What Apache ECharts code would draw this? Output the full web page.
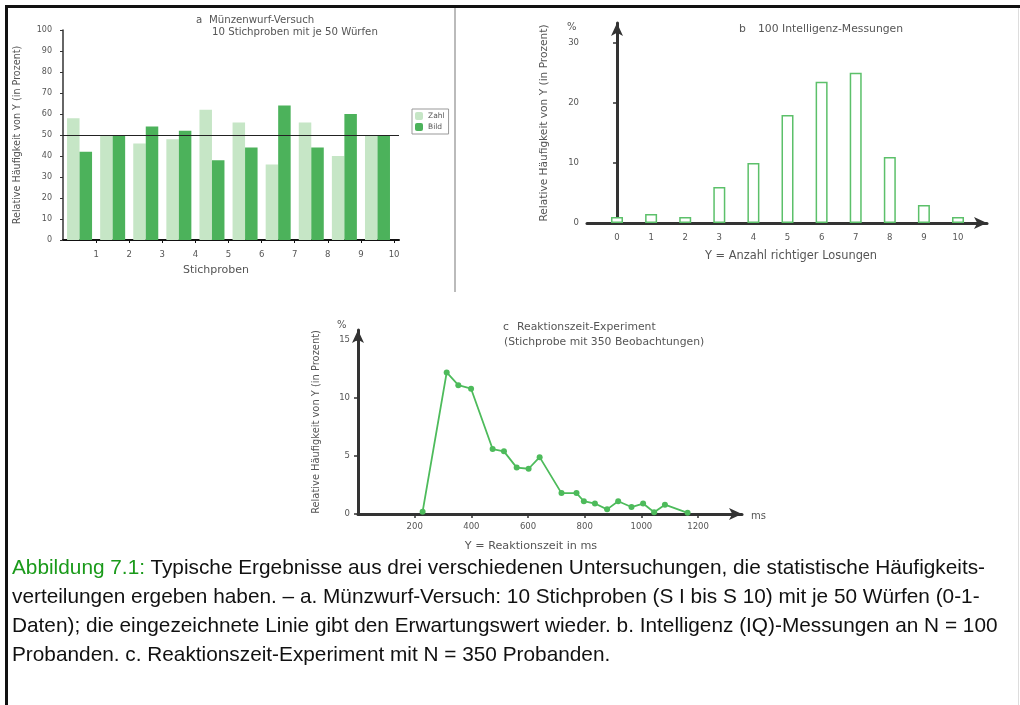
<!DOCTYPE html>
<html>
<head>
<meta charset="utf-8">
<script src="https://cdn.jsdelivr.net/npm/echarts@6/dist/echarts.min.js"></script>
<style>
  html, body { margin: 0; padding: 0; background: #fff; }
  #page { position: relative; width: 1020px; height: 705px; overflow: hidden; }
  #frame { position: absolute; left: 5px; top: 5px; width: 1020px; height: 710px;
    border-top: 3px solid #111; border-left: 3px solid #111; box-sizing: border-box; }
  #rightEdge { position: absolute; left: 1018px; top: 8px; width: 1px; height: 697px; background: #ddd; }
  #chart { position: absolute; left: 0; top: 0; width: 1020px; height: 705px; }
  #caption { position: absolute; left: 12px; top: 552px; width: 1005px; white-space: nowrap;
    font-family: "Liberation Sans", Arial, sans-serif; font-size: 20.8px; line-height: 29px; color: #111; }
  #caption .fig { color: #1a9a1a; }
</style>
</head>
<body>
<div id="page">
  <div id="chart"></div>
  <div id="frame"></div>
  <div id="rightEdge"></div>
  <div id="caption">
    <span class="fig">Abbildung 7.1:</span> Typische Ergebnisse aus drei verschiedenen Untersuchungen, die statistische Häufigkeits-<br>
    verteilungen ergeben haben. – a. Münzwurf-Versuch: 10 Stichproben (S I bis S 10) mit je 50 Würfen (0-1-<br>
    Daten); die eingezeichnete Linie gibt den Erwartungswert wieder. b. Intelligenz (IQ)-Messungen an N = 100<br>
    Probanden. c. Reaktionszeit-Experiment mit N = 350 Probanden.
  </div>
</div>
<script>
// a: Münzwurf, 10 Stichproben mit je 50 Würfen
const samples = [1, 2, 3, 4, 5, 6, 7, 8, 9, 10]
const zahlValues = [58, 50, 46, 48, 62, 56, 36, 56, 40, 50]
const bildValues = [42, 50, 54, 52, 38, 44, 64, 44, 60, 50]
const expectedValue = 50

// b: 100 Intelligenz-Messungen
const iqScores = [0, 1, 2, 3, 4, 5, 6, 7, 8, 9, 10]
const iqPercent = [1, 1.5, 1, 6, 10, 18, 23.5, 25, 11, 3, 1]
const iqYTicks = [0, 10, 20, 30]

// c: Reaktionszeit-Experiment
const rtMs = [228, 313, 354, 399, 475, 515, 560, 602, 641, 718, 771, 797, 836, 879, 918, 965, 1006, 1045, 1083, 1163]
const rtPercent = [0.2, 12.2, 11.1, 10.8, 5.6, 5.4, 4.0, 3.9, 4.9, 1.8, 1.8, 1.1, 0.9, 0.4, 1.1, 0.6, 0.9, 0.15, 0.8, 0.1]
const rtXTicks = [200, 400, 600, 800, 1000, 1200]
const rtYTicks = [0, 5, 10, 15]

const FONT = '"DejaVu Sans", "Liberation Sans", sans-serif'
const GREY = '#555'
const LIGHT = '#c6e6c6'
const DARK = '#4cb25b'
const LINE_GREEN = '#4dbb5b'
const yName = 'Relative Häufigkeit von Y (in Prozent)'

const label = (size) => ({ color: GREY, fontSize: size, fontFamily: FONT })
const plain = (v) => String(v)
const text = (x, y, str, size, align) => ({
  type: 'text', x: x, y: y, silent: true,
  style: { text: str, fill: GREY, font: size + 'px ' + FONT, align: align || 'left', verticalAlign: 'middle' }
})

const chart = echarts.init(document.getElementById('chart'))

const option = {
  animation: false,
  textStyle: { fontFamily: FONT },
  legend: {
    data: ['Zahl', 'Bild'],
    orient: 'vertical',
    left: 412,
    top: 109,
    padding: [3, 4, 3, 3],
    itemGap: 3,
    itemWidth: 8,
    itemHeight: 8,
    borderColor: '#999',
    borderWidth: 1,
    textStyle: label(7.5)
  },
  grid: [
    { left: 63, top: 30, width: 336, height: 210 },
    { left: 587, top: 23, width: 400, height: 200 },
    { left: 358, top: 330, width: 384, height: 184 }
  ],
  xAxis: [
    {
      gridIndex: 0, type: 'value', min: 0, max: 10.15,
      splitLine: { show: false },
      axisLine: { lineStyle: { color: '#111', width: 2 } },
      axisTick: { customValues: samples, length: 3, lineStyle: { color: '#111' } },
      axisLabel: { customValues: samples, margin: 10, formatter: plain, ...label(8.5) }
    },
    {
      gridIndex: 1, type: 'value', min: -0.88, max: 10.85,
      splitLine: { show: false },
      axisLine: { symbol: ['none', 'arrow'], symbolSize: [9, 13], lineStyle: { color: '#333', width: 3 } },
      axisTick: { show: false },
      axisLabel: { customValues: iqScores, margin: 10, formatter: plain, ...label(8.5) }
    },
    {
      gridIndex: 2, type: 'value', min: 0, max: 1355,
      splitLine: { show: false },
      axisLine: { symbol: ['none', 'arrow'], symbolSize: [9, 13], lineStyle: { color: '#333', width: 3 } },
      axisTick: { customValues: rtXTicks, length: 4, lineStyle: { color: '#333', width: 1.5 } },
      axisLabel: { customValues: rtXTicks, margin: 8, formatter: plain, ...label(8.5) }
    }
  ],
  yAxis: [
    {
      gridIndex: 0, type: 'value', min: 0, max: 100, interval: 10,
      name: yName, nameLocation: 'middle', nameGap: 41, nameRotate: 90, nameTextStyle: label(9.6),
      splitLine: { show: false },
      axisLine: { show: true, lineStyle: { color: '#333', width: 1.5 } },
      axisTick: { show: true, length: 3, lineStyle: { color: '#333' } },
      axisLabel: { margin: 11, formatter: plain, ...label(8) }
    },
    {
      gridIndex: 1, type: 'value', min: 0, max: 33.3,
      name: yName, nameLocation: 'middle', nameGap: 37, nameRotate: 90, nameTextStyle: label(10.6),
      splitLine: { show: false },
      axisLine: { show: true, symbol: ['none', 'arrow'], symbolSize: [9, 13], lineStyle: { color: '#333', width: 3 } },
      axisTick: { show: true, customValues: iqYTicks, length: 4, lineStyle: { color: '#333', width: 1.5 } },
      axisLabel: { customValues: iqYTicks, margin: 8, formatter: plain, ...label(8.5) }
    },
    {
      gridIndex: 2, type: 'value', min: 0, max: 15.86,
      name: yName, nameLocation: 'middle', nameGap: 37, nameRotate: 90, nameTextStyle: label(9.9),
      splitLine: { show: false },
      axisLine: { show: true, symbol: ['none', 'arrow'], symbolSize: [9, 13], lineStyle: { color: '#333', width: 3 } },
      axisTick: { show: true, customValues: rtYTicks, length: 4, lineStyle: { color: '#333', width: 1.5 } },
      axisLabel: { customValues: rtYTicks, margin: 8, formatter: plain, ...label(8.5) }
    }
  ],
  series: [
    {
      name: 'Zahl', type: 'bar', xAxisIndex: 0, yAxisIndex: 0,
      barWidth: 12.5, barGap: '0%',
      itemStyle: { color: LIGHT },
      data: samples.map((s, i) => [s - 0.5, zahlValues[i]])
    },
    {
      name: 'Bild', type: 'bar', xAxisIndex: 0, yAxisIndex: 0,
      barWidth: 12.5, barGap: '0%',
      itemStyle: { color: DARK },
      data: samples.map((s, i) => [s - 0.5, bildValues[i]]),
      markLine: {
        silent: true, symbol: 'none', label: { show: false },
        lineStyle: { color: '#222', width: 1, type: 'solid' },
        data: [{ yAxis: expectedValue }]
      }
    },
    {
      name: 'IQ', type: 'bar', xAxisIndex: 1, yAxisIndex: 1,
      barWidth: 12,
      itemStyle: { color: '#fff', borderColor: '#5cc06a', borderWidth: 1.5 },
      data: iqScores.map((s, i) => [s, iqPercent[i]])
    },
    {
      name: 'Reaktionszeit', type: 'line', xAxisIndex: 2, yAxisIndex: 2,
      symbol: 'circle', symbolSize: 6,
      lineStyle: { color: LINE_GREEN, width: 1.8 },
      itemStyle: { color: LINE_GREEN },
      data: rtMs.map((ms, i) => [ms, rtPercent[i]])
    }
  ],
  graphic: [
    { type: 'rect', shape: { x: 454, y: 8, width: 2, height: 284 }, style: { fill: '#bbb' }, silent: true },
    // titles
    text(196, 20, 'a', 10.2),
    text(209, 20, 'Münzenwurf-Versuch', 10.2),
    text(212, 32, '10 Stichproben mit je 50 Würfen', 10.2),
    text(739, 29, 'b', 10.8),
    text(758, 29, '100 Intelligenz-Messungen', 10.8),
    text(503, 327, 'c', 10.8),
    text(517, 327, 'Reaktionszeit-Experiment', 10.8),
    text(504, 342, '(Stichprobe mit 350 Beobachtungen)', 10.8),
    // axis names and units
    text(216, 270, 'Stichproben', 11, 'center'),
    text(791, 256, 'Y = Anzahl richtiger Losungen', 11.4, 'center'),
    text(531, 546, 'Y = Reaktionszeit in ms', 11.2, 'center'),
    text(567, 27, '%', 10),
    text(337, 325, '%', 10),
    text(751, 516, 'ms', 10)
  ]
}

chart.setOption(option)
</script>
</body>
</html>
